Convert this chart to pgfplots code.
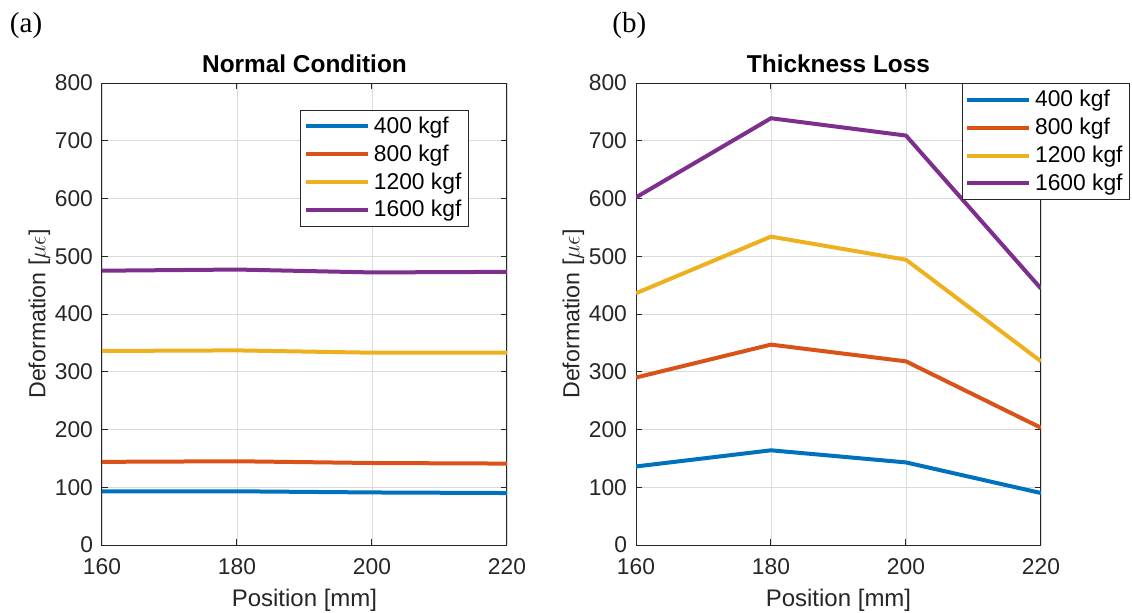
\documentclass[border=0pt]{standalone}
\usepackage{pgfplots}
\pgfplotsset{compat=1.18}
\usepackage{fontspec}
\setmainfont{Liberation Sans}
\newfontfamily\serifff{Liberation Serif}
\definecolor{mblue}{rgb}{0,0.447,0.741}
\definecolor{mred}{rgb}{0.85,0.325,0.098}
\definecolor{myellow}{rgb}{0.929,0.694,0.125}
\definecolor{mpurple}{rgb}{0.494,0.184,0.556}
\definecolor{axgray}{rgb}{0.15,0.15,0.15}
\pgfplotsset{
  mstyle/.style={
    scale only axis,
    width=202.5pt, height=231pt,
    xmin=160, xmax=220, ymin=0, ymax=800,
    xtick={160,180,200,220}, ytick={0,100,...,800},
    grid=major,
    major grid style={color=black!14, line width=0.4pt},
    axis line style={color=axgray, line width=0.5pt},
    tick style={color=axgray, line width=0.5pt},
    major tick length=2.8pt,
    tick align=inside,
    /pgf/number format/assume math mode=true,
    /pgf/number format/1000 sep={},
    ticklabel style={font=\fontsize{11.4}{13}\selectfont, text=axgray},
    xticklabel style={yshift=-3.5pt},
    yticklabel style={xshift=-1pt},
    label style={text=axgray},
    title style={font=\bfseries\fontsize{12.2}{14}\selectfont, yshift=-4.5pt},
    xlabel={Position [mm]},
    ylabel={Deformation [$\mu\epsilon$]},
    xlabel style={font=\fontsize{12}{14}\selectfont, yshift=0pt},
    ylabel style={font=\fontsize{11.6}{14}\selectfont, yshift=-4.5pt},
    every axis plot/.append style={line width=2pt},
    legend cell align=left,
    legend style={draw=axgray, line width=0.5pt, font=\fontsize{11.4}{13}\selectfont,
      inner xsep=1.5pt, inner ysep=1.2pt, row sep=0.2pt},
    legend image code/.code={\draw[#1, line width=2pt] (0pt,0pt) -- (31pt,0pt);},
  }
}
\begin{document}
\begin{tikzpicture}
\useasboundingbox (0,0) rectangle (566pt,-306pt);
\node[anchor=north west, inner sep=0pt, font=\serifff\fontsize{14.5}{16}\selectfont] at (4.8pt,-6pt) {(a)};
\node[anchor=north west, inner sep=0pt, font=\serifff\fontsize{14.5}{16}\selectfont] at (306pt,-6pt) {(b)};
\begin{axis}[mstyle, at={(51pt,-272.5pt)}, anchor=south west,
  title={Normal Condition},
  legend style={at={(rel axis cs:0.906,0.942)}, anchor=north east}]
\addplot[mblue] coordinates {(160,93) (180,93) (200,91) (220,90)};
\addplot[mred] coordinates {(160,144) (180,145) (200,142) (220,141)};
\addplot[myellow] coordinates {(160,336) (180,337) (200,333) (220,333)};
\addplot[mpurple] coordinates {(160,475) (180,477) (200,472) (220,473)};
\legend{400 kgf,800 kgf,1200 kgf,1600 kgf}
\end{axis}
\begin{axis}[mstyle, at={(318pt,-272.5pt)}, anchor=south west,
  title={Thickness Loss},
  legend style={at={(rel axis cs:1.22,1.0)}, anchor=north east}]
\addplot[mblue] coordinates {(160,136) (180,164) (200,143) (220,90)};
\addplot[mred] coordinates {(160,290) (180,347) (200,318) (220,203)};
\addplot[myellow] coordinates {(160,436) (180,534) (200,494) (220,318)};
\addplot[mpurple] coordinates {(160,602) (180,739) (200,709) (220,444)};
\legend{400 kgf,800 kgf,1200 kgf,1600 kgf}
\end{axis}
\end{tikzpicture}
\end{document}
